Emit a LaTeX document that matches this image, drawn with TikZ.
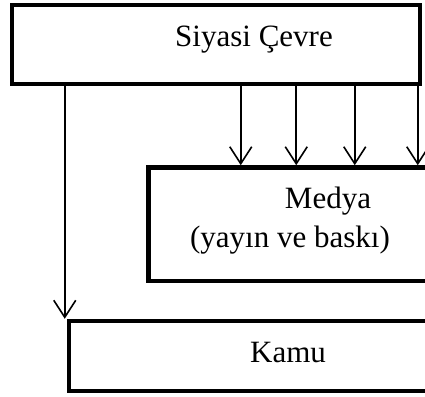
\documentclass[tikz,border=0pt]{standalone}
\usepackage{fontspec}
\setmainfont{Liberation Serif}
\usetikzlibrary{arrows.meta}
\begin{document}
\begin{tikzpicture}[x=1pt,y=-1pt,
  boxst/.style={draw,line width=4.5pt,rectangle,inner sep=0pt,fill=white},
  lbl/.style={inner sep=0pt,font=\fontsize{31}{36}\selectfont},
  arr/.style={line width=1.6pt,-{Straight Barb[length=17pt,width=22pt,line width=1.6pt]}}]
\useasboundingbox (0,0) rectangle (425,396);
\clip (0,0) rectangle (425,396);
\node[boxst,minimum width=408pt,minimum height=79pt] (s) at (216,44.5) {};
\node[boxst,minimum width=372pt,minimum height=113.5pt] (m) at (334.5,224.2) {};
\node[boxst,minimum width=441pt,minimum height=70pt] (k) at (289.5,356) {};
\node[lbl] (st) at (254,40) {Siyasi Çevre};
\node[lbl] (mt1) at (328,201) {Medya};
\node[lbl] (mt2) at (290,240) {(yayın ve baskı)};
\node[lbl] (kt) at (288,352) {Kamu};
\path (s.south west) ++(55,0) coordinate (a0);
\path (s.south west) ++(231,0) coordinate (a1);
\path (s.south west) ++(286.5,0) coordinate (a2);
\path (s.south west) ++(345,0) coordinate (a3);
\path (s.south west) ++(408,0) coordinate (a4);
\draw[arr] (a0) -- (a0 |- k.north);
\draw[arr] (a1) -- (a1 |- m.north);
\draw[arr] (a2) -- (a2 |- m.north);
\draw[arr] (a3) -- (a3 |- m.north);
\draw[arr] (a4) -- (a4 |- m.north);
\end{tikzpicture}
\end{document}
